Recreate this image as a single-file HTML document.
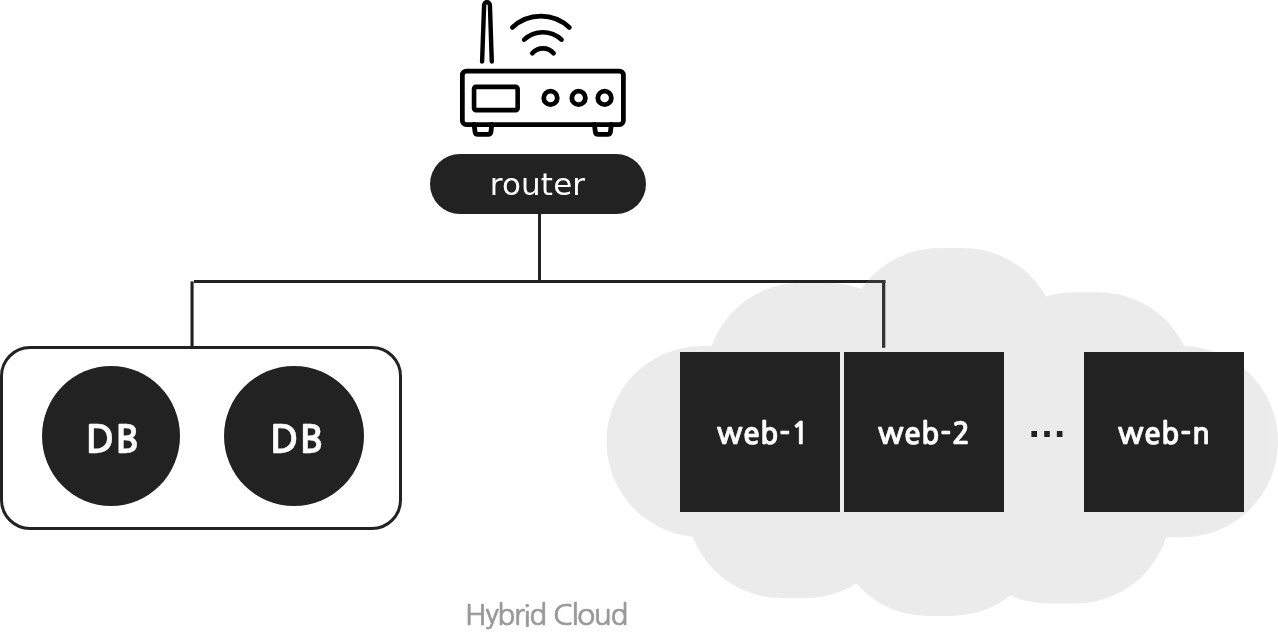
<!DOCTYPE html>
<html lang="en">
<head>
<meta charset="utf-8">
<title>Hybrid Cloud</title>
<style>
*{box-sizing:border-box;margin:0;padding:0}
html,body{width:1278px;height:632px;background:#fff;overflow:hidden}
body{position:relative;font-family:"Liberation Sans","NanumGothic",sans-serif;color:#222}
.abs{position:absolute;will-change:transform}
#shapes{position:absolute;left:0;top:0;width:1278px;height:632px;display:block}
.pill{left:430px;top:154px;width:216px;height:59.6px;border-radius:30px;background:#222;color:#fff;
  font-family:"DejaVu Sans","Liberation Sans",sans-serif;font-size:31px;letter-spacing:0.12px;line-height:59.6px;text-align:center;white-space:nowrap}
.pill span{position:relative;top:1px;left:-0.5px}
.dbbox{left:0;top:346px;width:402px;height:183.6px;border:3px solid #222;border-radius:30px;background:#fff}
.db{background:#222;color:#fff;border-radius:50%;font-family:"NanumGothic","Liberation Sans",sans-serif;font-weight:700;font-size:40px;letter-spacing:0.5px;-webkit-text-stroke:0.4px #fff;text-align:center;white-space:nowrap}
.db span{display:inline-block;transform:scaleY(.95);position:relative;top:4px;left:1.7px}
.db2 span{left:2.8px}
.db1{left:42px;top:365.6px;width:138.2px;height:140.2px;line-height:140.2px}
.db2{left:223.8px;top:365.6px;width:140.4px;height:140.2px;line-height:140.2px}
.web{top:352px;width:160px;height:159.6px;background:#222;color:#fff;font-family:"NanumGothic","Liberation Sans",sans-serif;font-weight:700;font-size:30px;letter-spacing:0.8px;-webkit-text-stroke:0.5px #fff;line-height:159.6px;text-align:center;white-space:nowrap}
.web span{position:relative;top:2px;left:0.5px}
.w1 span{left:3.5px}
.w1{left:680px}.w2{left:844px}.wn{left:1084px}
.dots{left:1004px;top:352px;width:80px;height:159.6px;line-height:159.6px;text-align:center;font-family:"Liberation Sans",sans-serif;font-weight:700;font-size:40px;color:#222;white-space:nowrap}
.dots span{position:relative;top:-8.2px;left:3px}
.caption{left:465px;top:597px;font-family:"NanumGothic","Liberation Sans",sans-serif;font-size:29.5px;letter-spacing:-1.3px;line-height:36px;color:#999;-webkit-text-stroke:0.7px #999;white-space:nowrap}
</style>
</head>
<body>
<svg id="shapes" viewBox="0 0 1278 632" width="1278" height="632" aria-hidden="true">
  <!-- connectors -->
  <g fill="#222">
    <rect x="538" y="213" width="3" height="68"/>
    <rect x="194" y="280" width="691.5" height="3"/>
    <rect x="190.5" y="281.4" width="3.1" height="66"/>
    <rect x="882" y="281" width="3.3" height="66.8"/>
  </g>
  <!-- cloud (translucent, sits over the connector lines) -->
  <g fill="#8c8c8c" opacity="0.17">
    <rect x="606.5" y="346.1" width="671.5" height="191.1" rx="95.5" ry="95.5"/>
    <rect x="706.2" y="282.7" width="216.4" height="200" rx="95" ry="95"/>
    <rect x="844.5" y="247.9" width="213.5" height="200" rx="95" ry="95"/>
    <rect x="978.7" y="292.2" width="214.8" height="200" rx="95" ry="95"/>
    <rect x="686.5" y="398" width="214.5" height="200" rx="95" ry="95"/>
    <rect x="832.7" y="415.9" width="213.8" height="200" rx="95" ry="95"/>
    <rect x="953.9" y="403.6" width="216.6" height="200" rx="95" ry="95"/>
  </g>
  <!-- router icon -->
  <g fill="none" stroke="#000" stroke-linecap="round" stroke-linejoin="round">
    <path stroke-width="4.4" d="M482.1 61.5 L484.1 5.1 A2.9 2.9 0 0 1 489.9 5.1 L491.8 61.5"/>
    <path stroke-width="4.7" d="M512.3 27.5 A41.4 41.4 0 0 1 569.4 27.5"/>
    <path stroke-width="4.7" d="M524.2 39.6 A27.3 27.3 0 0 1 561.5 39.6"/>
    <path stroke-width="4.7" d="M532.3 53.3 A13.9 13.9 0 0 1 553.6 53.3"/>
    <rect stroke-width="4.75" x="462.35" y="71.1" width="161.05" height="53.45" rx="4" ry="4"/>
    <rect stroke-width="4.6" x="474.05" y="86.9" width="43.6" height="23.25" rx="2" ry="2"/>
    <circle stroke-width="4.8" cx="550.5" cy="97.9" r="6.75"/>
    <circle stroke-width="4.8" cx="578.6" cy="97.9" r="6.75"/>
    <circle stroke-width="4.8" cx="604.6" cy="97.9" r="6.75"/>
    <path stroke-width="4.8" d="M474.1 124.5 L475 131.6 Q475.3 134.4 478 134.4 L488 134.4 Q490.7 134.4 491 131.6 L491.8 124.5"/>
    <path stroke-width="4.8" d="M594.4 124.5 L595.3 131.6 Q595.6 134.4 598.3 134.4 L607.5 134.4 Q610.2 134.4 610.5 131.6 L611.3 124.5"/>
  </g>
</svg>

<div class="abs pill"><span>router</span></div>

<div class="abs dbbox"></div>
<div class="abs db db1"><span>DB</span></div>
<div class="abs db db2"><span>DB</span></div>

<div class="abs web w1"><span>web-1</span></div>
<div class="abs web w2"><span>web-2</span></div>
<div class="abs dots"><span>…</span></div>
<div class="abs web wn"><span>web-n</span></div>

<div class="abs caption">Hybrid Cloud</div>
</body>
</html>
